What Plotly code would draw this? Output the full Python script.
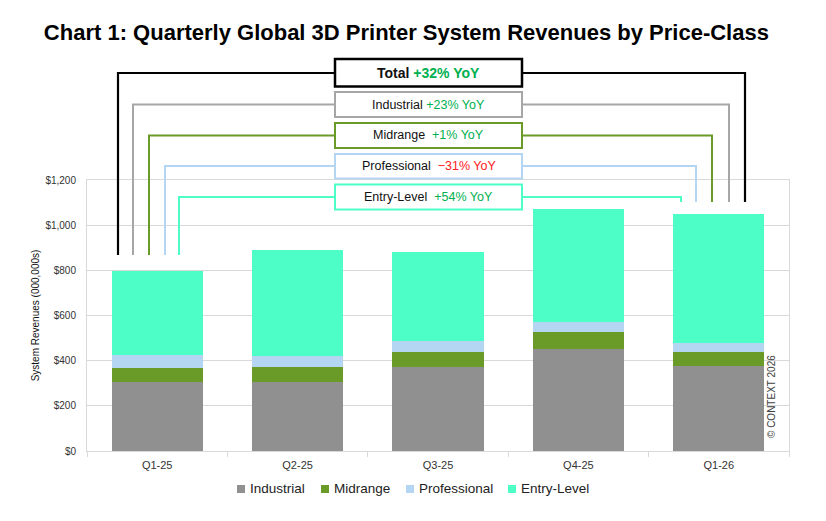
import plotly.graph_objects as go

quarters = ["Q1-25", "Q2-25", "Q3-25", "Q4-25", "Q1-26"]
industrial = [306, 305, 372, 450, 378]
midrange = [60, 66, 65, 79, 60.5]
professional = [58, 49, 49, 41, 40]
entry_level = [372, 472, 393, 500, 572]

series_names = ["Industrial", "Midrange", "Professional", "Entry-Level"]
series_colors = ["#909090", "#6a9a28", "#b5d6f2", "#4dffc7"]

yoy_labels = ["Total", "Industrial", "Midrange", "Professional", "Entry-Level"]
yoy_values = ["+32% YoY", "+23% YoY", "+1% YoY", "\u221231% YoY", "+54% YoY"]

FONT = "Liberation Sans, Arial"
W, H = 826, 521
L, R, T, B = 87, 789, 180, 451  # plot area in pixels


def px(x):
    return (x - L) / (R - L)


def py(y):
    return (B - y) / (B - T)


fig = go.Figure()
for name, vals, col in zip(series_names, [industrial, midrange, professional, entry_level], series_colors):
    fig.add_trace(go.Bar(x=quarters, y=vals, name=name, marker_color=col,
                         marker_line_width=0, showlegend=False))

# bracket lines + YoY boxes (pixel layout of the decoration)
bracket_cols = ["#000000", "#a6a6a6", "#6a9a28", "#b5d6f2", "#4dffc7"]
bracket_y = [73, 104.5, 135.5, 166, 197]
left_x = [118, 133, 149, 165, 179]
right_x = [745, 729, 712, 696, 681]
box_top = [59, 92, 123, 154, 184.5]
box_bot = [86.5, 117, 148, 178.5, 209.5]
box_x0, box_x1 = 335, 522
left_end, right_end = 255, 202

shapes = []
for i in range(5):
    path = "M %f,%f L %f,%f L %f,%f L %f,%f" % (
        px(left_x[i]), py(left_end), px(left_x[i]), py(bracket_y[i]),
        px(right_x[i]), py(bracket_y[i]), px(right_x[i]), py(right_end))
    shapes.append(dict(type="path", xref="paper", yref="paper", path=path,
                       line=dict(color=bracket_cols[i], width=2.2 if i == 0 else 2)))
for i in range(5):
    shapes.append(dict(type="rect", xref="paper", yref="paper",
                       x0=px(box_x0), x1=px(box_x1), y0=py(box_bot[i]), y1=py(box_top[i]),
                       fillcolor="white",
                       line=dict(color=bracket_cols[i], width=2.5 if i == 0 else 2)))

annotations = []
for i in range(5):
    vcol = "#ff2020" if yoy_values[i].startswith("\u2212") else "#00b050"
    gap = " " if i < 2 else "\u00a0 "
    if i == 0:
        txt = "<b>%s</b> <b><span style='color:%s'>%s</span></b>" % (yoy_labels[i], vcol, yoy_values[i])
        size = 14
    else:
        txt = "%s%s<span style='color:%s'>%s</span>" % (yoy_labels[i], gap, vcol, yoy_values[i])
        size = 12.5
    annotations.append(dict(xref="paper", yref="paper", x=px((box_x0 + box_x1) / 2),
                            y=py((box_top[i] + box_bot[i]) / 2), text=txt, showarrow=False,
                            xanchor="center", yanchor="middle",
                            font=dict(family=FONT, size=size, color="#111111")))

# legend drawn by hand so the spacing matches the original
leg_x = [237, 321, 406, 508]
leg_y = 489
for name, col, x in zip(series_names, series_colors, leg_x):
    shapes.append(dict(type="rect", xref="paper", yref="paper",
                       x0=px(x), x1=px(x + 8), y0=py(leg_y + 4), y1=py(leg_y - 4),
                       fillcolor=col, line=dict(width=0)))
    annotations.append(dict(xref="paper", yref="paper", x=px(x + 11), y=py(leg_y),
                            text=name, showarrow=False, xanchor="left", yanchor="middle",
                            font=dict(family=FONT, size=13.5, color="#222222")))

annotations.append(dict(xref="paper", yref="paper", x=px(771), y=py(397),
                        text="\u00a9 CONTEXT 2026", showarrow=False, textangle=-90,
                        xanchor="center", yanchor="middle",
                        font=dict(family=FONT, size=10, color="#404040")))

fig.update_layout(
    width=W, height=H,
    margin=dict(l=L, r=W - R, t=T, b=H - B, pad=0),
    paper_bgcolor="white", plot_bgcolor="white",
    barmode="stack", bargap=0.35,
    title=dict(text="<b>Chart 1: Quarterly Global 3D Printer System Revenues by Price-Class</b>",
               x=0.492, xanchor="center", y=1 - 32 / H, yanchor="middle",
               font=dict(family=FONT, size=22, color="black")),
    showlegend=False,
    shapes=shapes,
    annotations=annotations,
)
fig.update_yaxes(range=[0, 1200], dtick=200, tickprefix="$", tickformat=",d",
                 showgrid=True, gridcolor="#d9d9d9", gridwidth=1,
                 showline=True, linecolor="#d9d9d9", mirror=True, zeroline=False,
                 ticks="", ticklabelstandoff=8,
                 tickfont=dict(family=FONT, size=10, color="#333333"),
                 title=dict(text="System Revenues (000,000s)", standoff=3,
                            font=dict(family=FONT, size=10, color="#111111")))
fig.update_xaxes(showline=True, linecolor="#d9d9d9", mirror=True, showgrid=False,
                 ticks="outside", tickson="boundaries", ticklen=5, tickcolor="#d9d9d9",
                 ticklabelstandoff=4,
                 tickfont=dict(family=FONT, size=11, color="#333333"))

fig.write_html("out.html", post_script="document.body.style.margin='0';",
               config={"displayModeBar": False})
